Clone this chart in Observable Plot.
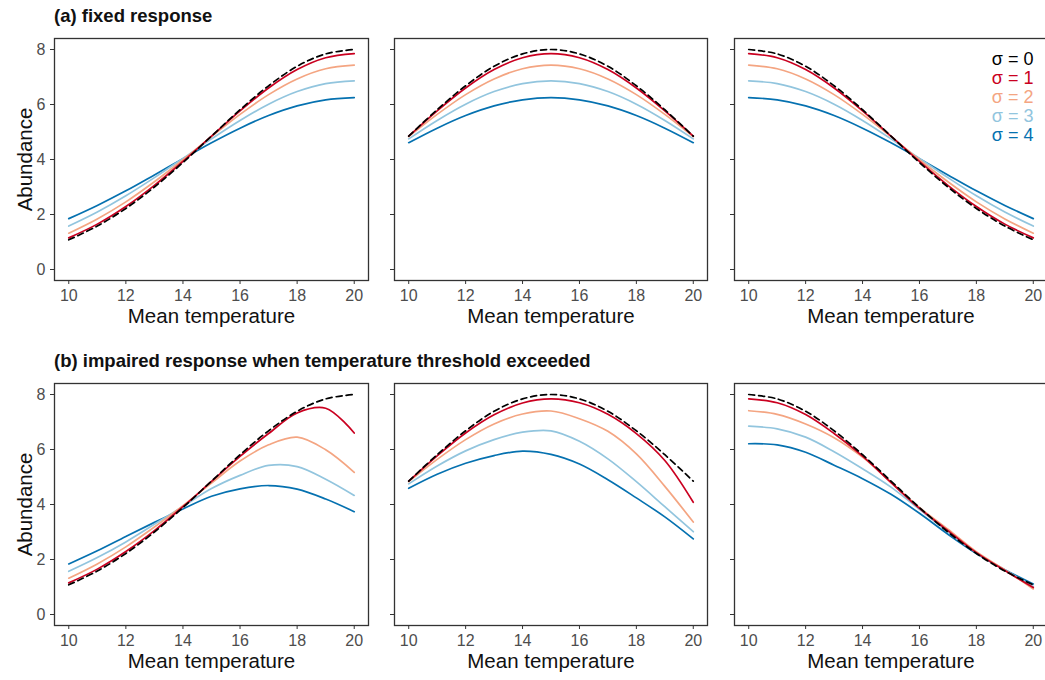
<!DOCTYPE html>
<html>
<head>
<meta charset="utf-8">
<script src="https://cdn.jsdelivr.net/npm/d3@7"></script>
<script src="https://cdn.jsdelivr.net/npm/@observablehq/plot@0.6"></script>
<style>
  html, body { margin: 0; padding: 0; background: #fff; overflow: hidden; }
  #wrap { position: relative; width: 1045px; height: 680px; overflow: hidden; font-family: "Liberation Sans", Arial, sans-serif; }
  .ttl { position: absolute; font-weight: bold; font-size: 18.5px; line-height: 20px; color: #111; white-space: nowrap; }
  .pnl { position: absolute; }
</style>
</head>
<body>
<div id="wrap"></div>
<script>
// ---------------- data ----------------
const temps = [10, 11, 12, 13, 14, 15, 16, 17, 18, 19, 20];
const xTicks = [10, 12, 14, 16, 18, 20];
const yTicks = [0, 2, 4, 6, 8];
const sigmaLabels = ["σ = 0", "σ = 1", "σ = 2", "σ = 3", "σ = 4"];
const titleA = "(a) fixed response";
const titleB = "(b) impaired response when temperature threshold exceeded";
const xTitle = "Mean temperature";
const yTitle = "Abundance";

// (a) fixed response, left panel (series sigma = 0..4)
const a1 = [
  [1.08, 1.58, 2.22, 3.00, 3.89, 4.85, 5.81, 6.68, 7.39, 7.84, 8.00],
  [1.15, 1.65, 2.29, 3.06, 3.93, 4.85, 5.77, 6.60, 7.27, 7.70, 7.85],
  [1.32, 1.84, 2.46, 3.19, 3.99, 4.83, 5.64, 6.36, 6.93, 7.30, 7.43],
  [1.58, 2.09, 2.68, 3.34, 4.04, 4.75, 5.42, 6.01, 6.47, 6.76, 6.86],
  [1.85, 2.33, 2.86, 3.44, 4.03, 4.61, 5.14, 5.60, 5.95, 6.17, 6.25]
];
// (a) middle panel
const a2 = [
  [4.85, 5.81, 6.68, 7.39, 7.84, 8.00, 7.84, 7.39, 6.68, 5.81, 4.85],
  [4.85, 5.77, 6.60, 7.27, 7.70, 7.85, 7.70, 7.27, 6.60, 5.77, 4.85],
  [4.83, 5.64, 6.36, 6.93, 7.30, 7.43, 7.30, 6.93, 6.36, 5.64, 4.83],
  [4.75, 5.42, 6.01, 6.47, 6.76, 6.86, 6.76, 6.47, 6.01, 5.42, 4.75],
  [4.61, 5.14, 5.60, 5.95, 6.17, 6.25, 6.17, 5.95, 5.60, 5.14, 4.61]
];
// (a) right panel
const a3 = [
  [8.00, 7.84, 7.39, 6.68, 5.81, 4.85, 3.89, 3.00, 2.22, 1.58, 1.08],
  [7.85, 7.70, 7.27, 6.60, 5.77, 4.85, 3.93, 3.06, 2.29, 1.65, 1.15],
  [7.43, 7.30, 6.93, 6.36, 5.64, 4.83, 3.99, 3.19, 2.46, 1.84, 1.32],
  [6.86, 6.76, 6.47, 6.01, 5.42, 4.75, 4.04, 3.34, 2.68, 2.09, 1.58],
  [6.25, 6.17, 5.95, 5.60, 5.14, 4.61, 4.03, 3.44, 2.86, 2.33, 1.85]
];
// (b) impaired response, left panel
const b1 = [
  [1.08, 1.58, 2.22, 3.00, 3.89, 4.85, 5.81, 6.68, 7.39, 7.84, 8.00],
  [1.15, 1.65, 2.29, 3.05, 3.92, 4.84, 5.75, 6.58, 7.33, 7.50, 6.60],
  [1.32, 1.84, 2.46, 3.18, 3.96, 4.78, 5.58, 6.17, 6.45, 5.99, 5.17],
  [1.57, 2.07, 2.64, 3.28, 3.93, 4.58, 5.06, 5.42, 5.38, 4.92, 4.33],
  [1.84, 2.32, 2.84, 3.35, 3.84, 4.30, 4.57, 4.69, 4.56, 4.20, 3.74]
];
// (b) middle panel
const b2 = [
  [4.85, 5.81, 6.68, 7.39, 7.84, 8.00, 7.84, 7.39, 6.68, 5.81, 4.85],
  [4.85, 5.77, 6.60, 7.26, 7.69, 7.84, 7.70, 7.28, 6.58, 5.60, 4.08],
  [4.83, 5.64, 6.36, 6.93, 7.29, 7.40, 7.12, 6.66, 5.84, 4.66, 3.36],
  [4.75, 5.40, 5.95, 6.36, 6.63, 6.68, 6.30, 5.66, 4.83, 3.92, 3.01],
  [4.59, 5.10, 5.50, 5.78, 5.94, 5.82, 5.47, 4.90, 4.24, 3.55, 2.75]
];
// (b) right panel
const b3 = [
  [8.00, 7.84, 7.39, 6.68, 5.81, 4.85, 3.89, 3.00, 2.22, 1.58, 1.08],
  [7.84, 7.70, 7.27, 6.58, 5.76, 4.80, 3.86, 3.05, 2.25, 1.60, 0.98],
  [7.41, 7.28, 6.93, 6.43, 5.72, 4.81, 3.89, 3.10, 2.28, 1.62, 0.93],
  [6.85, 6.75, 6.45, 5.92, 5.30, 4.63, 3.82, 3.00, 2.25, 1.62, 1.02],
  [6.21, 6.17, 5.90, 5.43, 4.94, 4.37, 3.68, 2.92, 2.22, 1.63, 1.11]
];

// ---------------- drawing ----------------
const colors = ["#000000", "#CA0020", "#F4A582", "#92C5DE", "#0571B0"];
const FONT = '"Liberation Sans", Arial, sans-serif';
const wrap = document.getElementById("wrap");

function addTitle(text, top) {
  const d = document.createElement("div");
  d.className = "ttl";
  d.style.left = "54px";
  d.style.top = top + "px";
  d.textContent = text;
  wrap.appendChild(d);
}

function panel(series, {frameLeft, frameTop, frameWidth, first, legend}) {
  const ml = first ? 54 : 12, mr = 4, mt = 8, mb = 55, fh = 242;
  const rows = series.flatMap((vals, s) => vals.map((v, i) => ({x: temps[i], y: v, s})));
  const marks = [
    Plot.axisX({ticks: xTicks, tickSize: 4, tickPadding: 5, fontSize: 16, stroke: "#333", fill: "#4d4d4d", label: null}),
    Plot.axisY({ticks: yTicks, tickSize: 4, tickPadding: 5, fontSize: 16, stroke: "#333", fill: "#4d4d4d", label: null,
                tickFormat: first ? (d => String(d)) : (() => "")})
  ];
  for (let s = 4; s >= 1; s--) {
    marks.push(Plot.line(rows.filter(r => r.s === s), {x: "x", y: "y", stroke: colors[s], strokeWidth: 1.7, curve: "catmull-rom"}));
  }
  marks.push(Plot.line(rows.filter(r => r.s === 0), {x: "x", y: "y", stroke: colors[0], strokeWidth: 1.7, strokeDasharray: "6,4", curve: "catmull-rom"}));
  marks.push(Plot.frame({stroke: "#333", strokeWidth: 1.3}));
  marks.push(Plot.text([xTitle], {frameAnchor: "bottom", textAnchor: "middle", dy: 42, fontSize: 20.5, fill: "#111"}));
  if (first) {
    marks.push(Plot.text([yTitle], {frameAnchor: "left", textAnchor: "middle", dx: -29, rotate: -90, fontSize: 20.5, fill: "#111"}));
  }
  if (legend) {
    sigmaLabels.forEach((lab, i) => {
      marks.push(Plot.text([lab], {frameAnchor: "top-right", textAnchor: "end", dx: -14, dy: 14 + 19 * i, fontSize: 18, fill: colors[i]}));
    });
  }
  const svg = Plot.plot({
    width: ml + frameWidth + mr,
    height: mt + fh + mb,
    marginLeft: ml, marginRight: mr, marginTop: mt, marginBottom: mb,
    x: {domain: [9.5, 20.5], label: null},
    y: {domain: [-0.4, 8.4], label: null},
    style: {fontFamily: FONT, background: "transparent", overflow: "visible"},
    marks
  });
  svg.classList.add("pnl");
  svg.style.left = (frameLeft - ml) + "px";
  svg.style.top = (frameTop - mt) + "px";
  wrap.appendChild(svg);
}

addTitle(titleA, 6);
addTitle(titleB, 351);

const cols = [{frameLeft: 54, frameWidth: 314}, {frameLeft: 394, frameWidth: 313}, {frameLeft: 734, frameWidth: 313}];
[a1, a2, a3].forEach((d, i) => panel(d, {...cols[i], frameTop: 38, first: i === 0, legend: i === 2}));
[b1, b2, b3].forEach((d, i) => panel(d, {...cols[i], frameTop: 383, first: i === 0, legend: false}));
</script>
</body>
</html>
